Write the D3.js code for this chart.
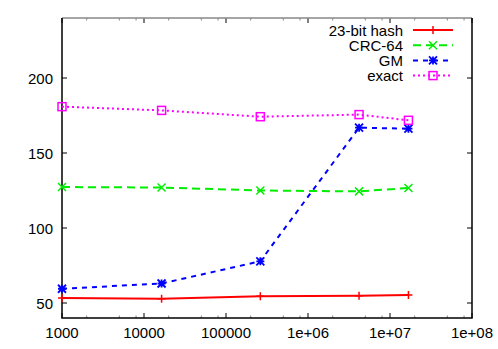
<!DOCTYPE html>
<html>
<head>
<meta charset="utf-8">
<script src="https://cdn.jsdelivr.net/npm/d3@7"></script>
<style>
  body { margin: 0; background: #fff; }
  text { font-family: "Liberation Sans", Arial, sans-serif; font-size: 15px; fill: #000; }
</style>
</head>
<body>
<div id="viz"></div>
<script>
// data
const sizes = [1000, 16384, 262144, 4194304, 16777216];
const hash23 = [53.3, 52.9, 54.5, 54.9, 55.3];
const crc64 = [127.3, 127.0, 125.0, 124.4, 126.7];
const gm = [59.5, 63.0, 77.8, 166.9, 166.2];
const exact = [180.9, 178.4, 174.2, 175.6, 171.8];

const seriesNames = ["23-bit hash", "CRC-64", "GM", "exact"];
const seriesValues = [hash23, crc64, gm, exact];
const colors = ["#ff0000", "#00ee00", "#0000ff", "#ff00ff"];
const dashes = [null, "8,5", "5,5", "2,3"];
const markers = ["plus", "cross", "star", "square"];

const xTicks = [1e3, 1e4, 1e5, 1e6, 1e7, 1e8];
const xTickLabels = ["1000", "10000", "100000", "1e+06", "1e+07", "1e+08"];
const yTicks = [50, 100, 150, 200];

const W = 498, H = 349;
const mLeft = 62, mRight = 472, mTop = 18, mBottom = 318;

const svg = d3.select("#viz").append("svg")
  .attr("width", W).attr("height", H);

const x = d3.scaleLog().domain([1e3, 1e8]).range([mLeft, mRight]);
const y = d3.scaleLinear().domain([40, 240]).range([mBottom, mTop]);

// minor ticks on the log axis (2, 5, 8 per decade)
const minor = [];
for (let p = 3; p < 8; p++) {
  [2, 5, 8].forEach(m => minor.push(m * Math.pow(10, p)));
}

const g = svg.append("g");

// minor x ticks, bottom and top
g.selectAll("line.minb").data(minor).enter().append("line")
  .attr("x1", d => x(d)).attr("x2", d => x(d))
  .attr("y1", mBottom).attr("y2", mBottom - 2.5)
  .attr("stroke", "#888").attr("stroke-width", 1);
g.selectAll("line.mint").data(minor).enter().append("line")
  .attr("x1", d => x(d)).attr("x2", d => x(d))
  .attr("y1", mTop).attr("y2", mTop + 2.5)
  .attr("stroke", "#888").attr("stroke-width", 1);

// major x ticks
g.selectAll("line.majb").data(xTicks).enter().append("line")
  .attr("x1", d => x(d)).attr("x2", d => x(d))
  .attr("y1", mBottom).attr("y2", mBottom - 5)
  .attr("stroke", "#000").attr("stroke-width", 1);
g.selectAll("line.majt").data(xTicks).enter().append("line")
  .attr("x1", d => x(d)).attr("x2", d => x(d))
  .attr("y1", mTop).attr("y2", mTop + 5)
  .attr("stroke", "#000").attr("stroke-width", 1);

// y ticks, both sides
g.selectAll("line.yl").data(yTicks).enter().append("line")
  .attr("x1", mLeft).attr("x2", mLeft + 5)
  .attr("y1", d => y(d)).attr("y2", d => y(d))
  .attr("stroke", "#000").attr("stroke-width", 1);
g.selectAll("line.yr").data(yTicks).enter().append("line")
  .attr("x1", mRight).attr("x2", mRight - 5)
  .attr("y1", d => y(d)).attr("y2", d => y(d))
  .attr("stroke", "#000").attr("stroke-width", 1);

// tick labels
g.selectAll("text.xl").data(xTicks).enter().append("text")
  .attr("x", d => x(d)).attr("y", mBottom + 20)
  .attr("text-anchor", "middle")
  .text((d, i) => xTickLabels[i]);
g.selectAll("text.yl").data(yTicks).enter().append("text")
  .attr("x", mLeft - 9).attr("y", d => y(d) + 5.5)
  .attr("text-anchor", "end")
  .text(d => d);

// frame: top border is grey in the original
svg.append("line").attr("x1", mLeft).attr("x2", mRight).attr("y1", mTop).attr("y2", mTop)
  .attr("stroke", "#888").attr("stroke-width", 1.5);
svg.append("path")
  .attr("d", `M${mLeft},${mTop} V${mBottom} H${mRight} V${mTop}`)
  .attr("fill", "none").attr("stroke", "#000").attr("stroke-width", 1.5);

// marker drawing
function drawMarker(sel, type, color) {
  const s = 4;
  if (type === "plus") {
    sel.append("path").attr("d", `M${-s},0H${s}M0,${-s}V${s}`)
      .attr("stroke", color).attr("stroke-width", 1.5).attr("fill", "none");
  } else if (type === "cross") {
    sel.append("path").attr("d", `M${-s},${-s}L${s},${s}M${-s},${s}L${s},${-s}`)
      .attr("stroke", color).attr("stroke-width", 1.5).attr("fill", "none");
  } else if (type === "star") {
    sel.append("path")
      .attr("d", `M${-s},0H${s}M0,${-s}V${s}M${-s},${-s}L${s},${s}M${-s},${s}L${s},${-s}`)
      .attr("stroke", color).attr("stroke-width", 1.8).attr("fill", "none");
  } else if (type === "square") {
    sel.append("rect").attr("x", -s).attr("y", -s).attr("width", 2 * s).attr("height", 2 * s)
      .attr("stroke", color).attr("stroke-width", 1.5).attr("fill", "none");
  }
}

const line = d3.line().x(d => x(d[0])).y(d => y(d[1]));

seriesValues.forEach((vals, k) => {
  const pts = sizes.map((s, i) => [s, vals[i]]);
  svg.append("path")
    .datum(pts)
    .attr("d", line)
    .attr("fill", "none")
    .attr("stroke", colors[k])
    .attr("stroke-width", 2)
    .attr("stroke-dasharray", dashes[k]);
  pts.forEach(p => {
    const m = svg.append("g").attr("transform", `translate(${x(p[0])},${y(p[1])})`);
    drawMarker(m, markers[k], colors[k]);
  });
});

// legend
const legTop = 30, legStep = 15.2;
seriesNames.forEach((name, k) => {
  const ly = legTop + k * legStep;
  svg.append("text").attr("x", 403).attr("y", ly + 5.5)
    .attr("text-anchor", "end").text(name);
  svg.append("line").attr("x1", 413).attr("x2", 453).attr("y1", ly).attr("y2", ly)
    .attr("stroke", colors[k]).attr("stroke-width", 2)
    .attr("stroke-dasharray", dashes[k]);
  const m = svg.append("g").attr("transform", `translate(433,${ly})`);
  drawMarker(m, markers[k], colors[k]);
});
</script>
</body>
</html>
